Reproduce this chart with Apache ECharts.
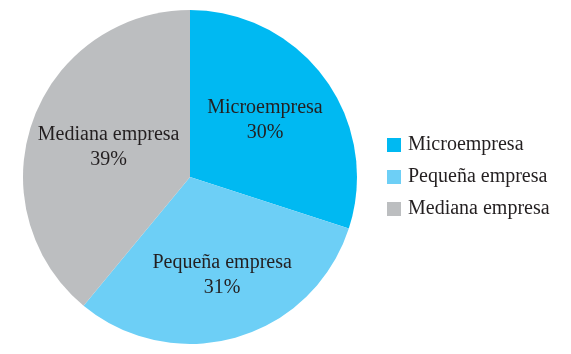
<!DOCTYPE html>
<html><head><meta charset="utf-8">
<script src="https://cdn.jsdelivr.net/npm/echarts@6/dist/echarts.min.js"></script>
<style>html,body{margin:0;padding:0;background:#fff}#c{width:571px;height:354px}</style>
</head><body><div id="c"></div>
<script>
const categories = ['Microempresa', 'Pequeña empresa', 'Mediana empresa'];
const values = [30, 31, 39];
const colors = ['#00B9F2', '#6DCFF6', '#BCBEC0'];

const labelOffsets = [[5, -6], [8, 15], [0, 0]];
const chart = echarts.init(document.getElementById('c'), null, {renderer: 'canvas'});
const font = '"Liberation Serif", "DejaVu Serif", serif';
chart.setOption({
  animation: false,
  color: colors,
  legend: {
    orient: 'vertical',
    left: 382,
    top: 130,
    itemWidth: 14,
    itemHeight: 14,
    itemGap: 12,
    icon: 'rect',
    data: categories,
    textStyle: {fontFamily: font, fontSize: 20, color: '#231F20', padding: [0,0,0,2]}
  },
  series: [{
    type: 'pie',
    center: [190, 177],
    radius: [0, 167],
    startAngle: 90,
    clockwise: true,
    itemStyle: {borderWidth: 0},
    label: {
      position: 'inside',
      fontFamily: font,
      fontSize: 20,
      color: '#231F20',
      lineHeight: 25,
      formatter: p => p.name + '\n' + p.value + '%'
    },
    data: categories.map((n, i) => ({name: n, value: values[i], label: {offset: labelOffsets[i]}}))
  }]
});
</script></body></html>
